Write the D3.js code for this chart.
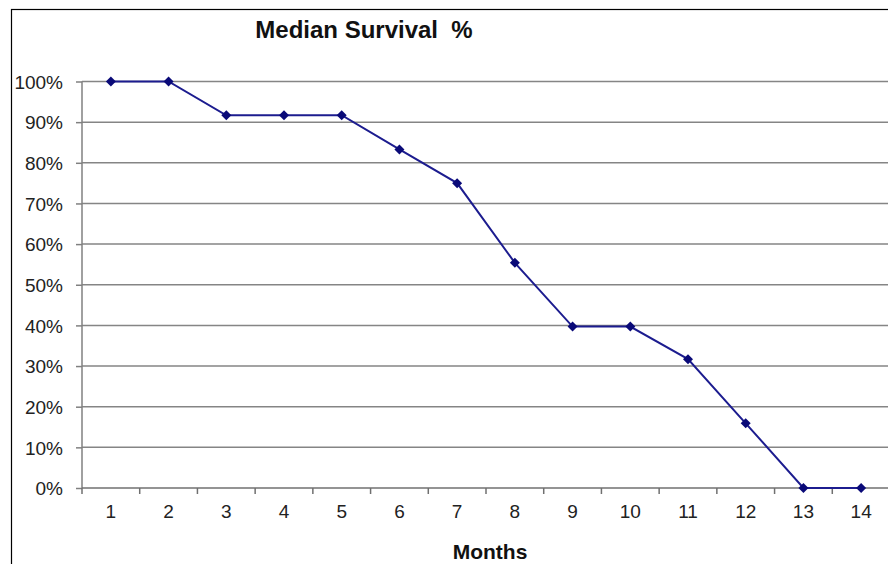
<!DOCTYPE html>
<html><head><meta charset="utf-8">
<script src="https://cdn.jsdelivr.net/npm/d3@7"></script>
<style>html,body{margin:0;padding:0;background:#fff;}svg{display:block;}</style>
</head><body>
<svg id="c" width="888" height="564"></svg>
<script>
const months = ["1","2","3","4","5","6","7","8","9","10","11","12","13","14"];
const survival = [100,100,91.7,91.7,91.7,83.3,75,55.4,39.7,39.7,31.7,15.9,0,0];
const yTicks = [0,10,20,30,40,50,60,70,80,90,100];
const title = "Median Survival  %";
const xTitle = "Months";

const svg = d3.select("#c");
const font = "Arial, 'Liberation Sans', sans-serif";
// outer border
svg.append("rect").attr("x",11.5).attr("y",9.5).attr("width",900).attr("height",600)
  .attr("fill","none").attr("stroke","#000").attr("stroke-width",1.2);

const L=82, R=890, T=81.5, B=488;
const x = d3.scaleBand().domain(months).range([L,R]).padding(0);
const y = d3.scaleLinear().domain([0,100]).range([B,T]);

// gridlines
svg.append("g").selectAll("line").data(yTicks.filter(d=>d>0)).join("line")
  .attr("x1",L).attr("x2",R).attr("y1",d=>y(d)).attr("y2",d=>y(d))
  .attr("stroke","#858585").attr("stroke-width",1.5);

// y axis
const ya = svg.append("g").attr("transform",`translate(${L},0)`)
  .call(d3.axisLeft(y).tickValues(yTicks).tickFormat(d=>d+"%").tickSize(6).tickPadding(13));
ya.select(".domain").attr("stroke","#808080").attr("stroke-width",1.5).attr("d",`M0,${T}V${B}`);
ya.selectAll(".tick line").attr("stroke","#808080").attr("stroke-width",1.5);
ya.selectAll("text").attr("font-family",font).attr("font-size",19).attr("fill","#222").attr("dy","0.36em");

// x axis
const xa = svg.append("g").attr("transform",`translate(0,${B})`)
  .call(d3.axisBottom(x).tickSize(0).tickPadding(17));
xa.select(".domain").attr("stroke","#707070").attr("stroke-width",1.5).attr("d",`M${L},0H${R}`);
xa.selectAll("text").attr("font-family",font).attr("font-size",19).attr("fill","#222");
// category boundary ticks
svg.append("g").selectAll("line").data(months).join("line")
  .attr("x1",d=>x(d)).attr("x2",d=>x(d)).attr("y1",B).attr("y2",B+6)
  .attr("stroke","#707070").attr("stroke-width",1.5);

// line
const cx = (d,i)=>x(months[i])+x.bandwidth()/2;
svg.append("path").datum(survival)
  .attr("d",d3.line().x(cx).y(d=>y(d)))
  .attr("fill","none").attr("stroke","#1c1c8f").attr("stroke-width",2);
svg.append("g").selectAll("path").data(survival).join("path")
  .attr("transform",(d,i)=>`translate(${cx(d,i)},${y(d)})`)
  .attr("d","M0,-5L5,0L0,5L-5,0Z").attr("fill","#0a0a78");

// titles
svg.append("text").attr("x",364).attr("y",38).attr("text-anchor","middle")
  .attr("font-family",font).attr("font-weight","bold").attr("font-size",24).attr("fill","#111")
  .attr("xml:space","preserve").style("white-space","pre").text(title);
svg.append("text").attr("x",490).attr("y",559).attr("text-anchor","middle")
  .attr("font-family",font).attr("font-weight","bold").attr("font-size",21).attr("fill","#111")
  .text(xTitle);
</script>
</body></html>
